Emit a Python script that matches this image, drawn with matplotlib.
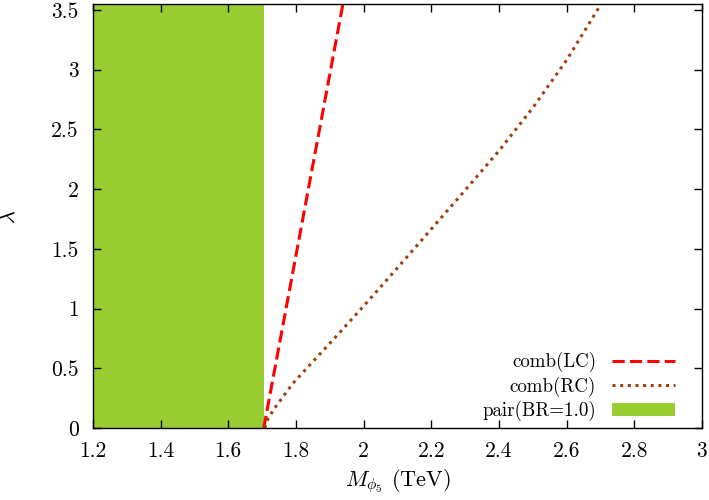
import matplotlib
matplotlib.use("Agg")
import matplotlib.pyplot as plt
from matplotlib.patches import Patch
from matplotlib.ticker import FixedLocator, FuncFormatter

plt.rcParams['font.family'] = 'serif'
plt.rcParams['font.serif'] = ['cmr10', 'DejaVu Serif']
plt.rcParams['mathtext.fontset'] = 'cm'
plt.rcParams['axes.formatter.use_mathtext'] = True

# Data
lc_mass = [1.705, 1.939]
lc_lambda = [0.0, 3.55]

rc_mass = [1.708, 1.718, 1.737, 1.762, 1.79, 1.85, 1.92, 2.0, 2.1,
           2.2, 2.3, 2.4, 2.5, 2.6, 2.702]
rc_lambda = [0.0, 0.08, 0.165, 0.262, 0.37, 0.555, 0.77, 1.02, 1.34,
             1.665, 1.99, 2.32, 2.68, 3.08, 3.55]

pair_range = [1.2, 1.705]

x_ticks = [1.2, 1.4, 1.6, 1.8, 2.0, 2.2, 2.4, 2.6, 2.8, 3.0]
y_ticks = [0, 0.5, 1, 1.5, 2, 2.5, 3, 3.5]

fig = plt.figure(figsize=(7.09, 5.0), dpi=100)
ax = fig.add_axes([0.131, 0.144, 0.859, 0.848])

ax.axvspan(pair_range[0], pair_range[1], color='#9acd32', lw=0, zorder=1)
ax.plot(lc_mass, lc_lambda, color='#ff0000', lw=2.2, dashes=(4, 1.7), zorder=3)
ax.plot(rc_mass, rc_lambda, color='#a0400f', lw=2.2, dashes=(1, 1.5), zorder=3)

ax.set_xlim(1.2, 3.0)
ax.set_ylim(0, 3.55)
ax.xaxis.set_major_locator(FixedLocator(x_ticks))
ax.yaxis.set_major_locator(FixedLocator(y_ticks))
fmt = FuncFormatter(lambda v, p: '%g' % v)
ax.xaxis.set_major_formatter(fmt)
ax.yaxis.set_major_formatter(fmt)
ax.tick_params(direction='in', length=6, width=1, top=True, right=True,
               labelsize=15.5, colors='black')
ax.tick_params(axis='x', pad=10)
ax.tick_params(axis='y', pad=10)
for s in ax.spines.values():
    s.set_linewidth(1.0)
    s.set_zorder(5)

ax.set_xlabel(r'$M_{\phi_5}$ (TeV)', fontsize=16, labelpad=4)
ax.set_ylabel(r'$\lambda$', fontsize=16)
ax.yaxis.set_label_coords(-0.122, 0.497)

handles = [
    plt.Line2D([], [], color='#ff0000', lw=2.2, dashes=(4, 1.7)),
    plt.Line2D([], [], color='#a0400f', lw=2.2, dashes=(1, 1.5)),
    Patch(facecolor='#9acd32', edgecolor='none'),
]
labels = ['comb(LC)', 'comb(RC)', 'pair(BR=1.0)']
leg = ax.legend(handles, labels, loc='lower right', markerfirst=False,
                frameon=False, fontsize=13.6, handlelength=3.3, handleheight=0.62,
                labelspacing=0.22, handletextpad=0.85,
                bbox_to_anchor=(0.983, -0.024))

fig.savefig('out.png', dpi=100)
